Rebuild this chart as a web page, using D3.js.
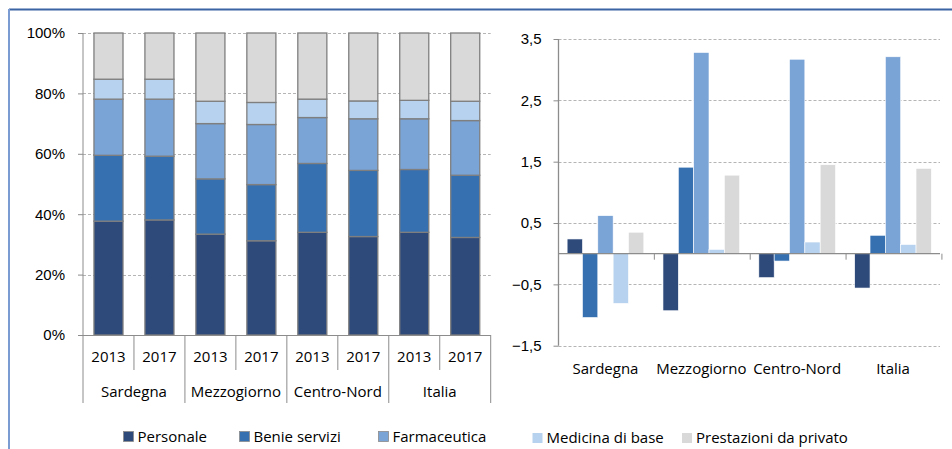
<!DOCTYPE html>
<html>
<head>
<meta charset="utf-8">
<script src="https://cdn.jsdelivr.net/npm/d3@7"></script>
<style>
  body { margin: 0; background: #fff; }
  svg { display: block; font-family: "Open Sans", sans-serif; }
  text { fill: #000; font-size: 15px; }
</style>
</head>
<body>
<div id="chart"></div>
<script>
// data
var regions = ["Sardegna", "Mezzogiorno", "Centro-Nord", "Italia"];
var years = ["2013", "2017"];
var seriesNames = ["Personale", "Beni e servizi", "Farmaceutica", "Medicina di base", "Prestazioni da privato"];
var legendLabels = ["Personale", "Benie servizi", "Farmaceutica", "Medicina di base", "Prestazioni da privato"];
var colors = ["#2e4a7b", "#3670b1", "#7aa3d6", "#b7d2ee", "#d9d9d9"];

// shares (%) per region/year, in series order
var shares = [
    [37.7, 21.8, 18.6, 6.6, 15.3],   // Sardegna 2013
    [38.1, 21.1, 18.9, 6.6, 15.3],   // Sardegna 2017
    [33.4, 18.3, 18.3, 7.4, 22.6],   // Mezzogiorno 2013
    [31.2, 18.6, 19.9, 7.3, 23.0],   // Mezzogiorno 2017
    [34.0, 22.8, 15.2, 6.1, 21.9],   // Centro-Nord 2013
    [32.6, 21.9, 17.1, 5.9, 22.5],   // Centro-Nord 2017
    [34.0, 20.8, 16.8, 6.1, 22.3],   // Italia 2013
    [32.3, 20.6, 18.1, 6.4, 22.6]    // Italia 2017
];

// variations per region, in series order
var variations = [
    [0.24, -1.04, 0.62, -0.81, 0.35],  // Sardegna
    [-0.93, 1.41, 3.28, 0.07, 1.28],   // Mezzogiorno
    [-0.39, -0.12, 3.17, 0.19, 1.45],  // Centro-Nord
    [-0.56, 0.30, 3.21, 0.15, 1.39]    // Italia
];

var leftTicks = [0, 20, 40, 60, 80, 100];
var rightTicks = [-1.5, -0.5, 0.5, 1.5, 2.5, 3.5];

var W = 952, H = 449;
var svg = d3.select("#chart").append("svg").attr("width", W).attr("height", H);

// frame
svg.append("line").attr("x1", 9).attr("x2", W).attr("y1", 9.5).attr("y2", 9.5)
    .attr("stroke", "#3b64a5").attr("stroke-width", 2);
svg.append("line").attr("x1", 9).attr("x2", 9).attr("y1", 9).attr("y2", H)
    .attr("stroke", "#7b9bd3").attr("stroke-width", 2);

// ---------- left chart: stacked 100% ----------
var L = {x0: 83, x1: 490.7, top: 33, bottom: 335};
var cats = [];
regions.forEach(function (r) { years.forEach(function (y) { cats.push(r + "|" + y); }); });

var xL = d3.scaleBand().domain(cats).range([L.x0, L.x1]).paddingInner(0.43).paddingOuter(0.215);
var yL = d3.scaleLinear().domain([0, 100]).range([L.bottom, L.top]);

var gL = svg.append("g");
gL.selectAll("line.grid").data(leftTicks).enter().append("line")
    .attr("x1", L.x0).attr("x2", L.x1)
    .attr("y1", function (d) { return Math.round(yL(d)) + 0.5; })
    .attr("y2", function (d) { return Math.round(yL(d)) + 0.5; })
    .attr("stroke", "#b5b5b5").attr("stroke-dasharray", "3,2");

var stackRows = shares.map(function (s, i) {
    var o = {cat: cats[i]};
    seriesNames.forEach(function (n, j) { o[n] = s[j]; });
    return o;
});
var stacked = d3.stack().keys(seriesNames)(stackRows);

stacked.forEach(function (layer, j) {
    gL.selectAll("rect.s" + j).data(layer).enter().append("rect")
        .attr("x", function (d) { return xL(d.data.cat); })
        .attr("width", xL.bandwidth())
        .attr("y", function (d) { return yL(d[1]); })
        .attr("height", function (d) { return yL(d[0]) - yL(d[1]); })
        .attr("fill", colors[j])
        .attr("stroke", "#7f7f7f").attr("stroke-width", 1.3);
});

// y axis
var axL = gL.append("g").attr("transform", "translate(" + L.x0 + ",0)")
    .call(d3.axisLeft(yL).tickValues(leftTicks).tickSize(5).tickPadding(13)
        .tickFormat(function (d) { return d + "%"; }));
axL.select(".domain").remove();
axL.selectAll(".tick line").attr("stroke", "#8c8c8c");
axL.selectAll("text").style("font-size", "15px").attr("fill", "#000");
gL.append("line").attr("x1", L.x0).attr("x2", L.x0).attr("y1", L.top).attr("y2", 403)
    .attr("stroke", "#8c8c8c");
gL.append("line").attr("x1", L.x0).attr("x2", L.x1).attr("y1", L.bottom + 0.5).attr("y2", L.bottom + 0.5)
    .attr("stroke", "#8c8c8c");

// category separators
var step = xL.step();
cats.forEach(function (c, i) {
    var xe = L.x0 + step * (i + 1);
    var long = (i % 2 === 1);
    gL.append("line").attr("x1", xe).attr("x2", xe).attr("y1", L.bottom)
        .attr("y2", long ? 403 : 370).attr("stroke", "#8c8c8c");
    gL.append("text").attr("x", L.x0 + step * (i + 0.5)).attr("y", 362)
        .attr("text-anchor", "middle").text(c.split("|")[1]);
});
regions.forEach(function (r, i) {
    gL.append("text").attr("x", L.x0 + step * (2 * i + 1)).attr("y", 397)
        .attr("text-anchor", "middle").text(r);
});

// ---------- right chart: clustered columns ----------
var R = {x0: 558.5, x1: 940, top: 39, bottom: 345.7};
var x0R = d3.scaleBand().domain(regions).range([R.x0, R.x1]).paddingInner(0.2).paddingOuter(0.09);
var x1R = d3.scaleBand().domain(seriesNames).range([0, x0R.bandwidth()]);
var yR = d3.scaleLinear().domain([-1.5, 3.5]).range([R.bottom, R.top]);

var gR = svg.append("g");
gR.selectAll("line.grid").data(rightTicks).enter().append("line")
    .attr("x1", R.x0).attr("x2", R.x1)
    .attr("y1", function (d) { return Math.round(yR(d)) + 0.5; })
    .attr("y2", function (d) { return Math.round(yR(d)) + 0.5; })
    .attr("stroke", "#b5b5b5").attr("stroke-dasharray", "3,2");

regions.forEach(function (r, i) {
    gR.selectAll("rect.r" + i).data(variations[i]).enter().append("rect")
        .attr("x", function (d, j) { return x0R(r) + x1R(seriesNames[j]); })
        .attr("width", x1R.bandwidth())
        .attr("y", function (d) { return yR(Math.max(0, d)); })
        .attr("height", function (d) { return Math.abs(yR(d) - yR(0)); })
        .attr("fill", function (d, j) { return colors[j]; })
        .attr("stroke", "#ffffff").attr("stroke-width", 0.6);
});

var axR = gR.append("g").attr("transform", "translate(" + R.x0 + ",0)")
    .call(d3.axisLeft(yR).tickValues(rightTicks).tickSize(5).tickPadding(12)
        .tickFormat(function (d) { return d3.format(".1f")(d).replace(".", ","); }));
axR.select(".domain").remove();
axR.selectAll(".tick line").attr("stroke", "#8c8c8c");
axR.selectAll("text").style("font-size", "15px").attr("fill", "#000");
gR.append("line").attr("x1", R.x0).attr("x2", R.x0).attr("y1", R.top).attr("y2", R.bottom)
    .attr("stroke", "#8c8c8c").attr("stroke-width", 1.3);

// zero axis with category ticks
var y0 = yR(0);
gR.append("line").attr("x1", R.x0).attr("x2", R.x1).attr("y1", y0).attr("y2", y0)
    .attr("stroke", "#8c8c8c").attr("stroke-width", 1.3);
regions.forEach(function (r, i) {
    var xe = R.x0 + x0R.step() * (i + 1);
    gR.append("line").attr("x1", xe).attr("x2", xe).attr("y1", y0).attr("y2", y0 + 6)
        .attr("stroke", "#8c8c8c");
    gR.append("text").attr("x", x0R(r) + x0R.bandwidth() / 2).attr("y", 374)
        .attr("text-anchor", "middle").text(r);
});

// ---------- legend ----------
var legendX = [123.5, 239.5, 378.5, 532.5, 682];
var legend = svg.append("g");
legendLabels.forEach(function (n, j) {
    var lg = legend.append("g").attr("transform", "translate(" + legendX[j] + "," + (j > 2 ? 433 : 431.5) + ")");
    lg.append("rect").attr("width", 10).attr("height", 10)
        .attr("fill", colors[j]).attr("stroke", j > 2 ? "none" : "#8c8c8c").attr("stroke-width", 0.8);
    lg.append("text").attr("x", 14).attr("y", 10).text(n);
});
</script>
</body>
</html>
